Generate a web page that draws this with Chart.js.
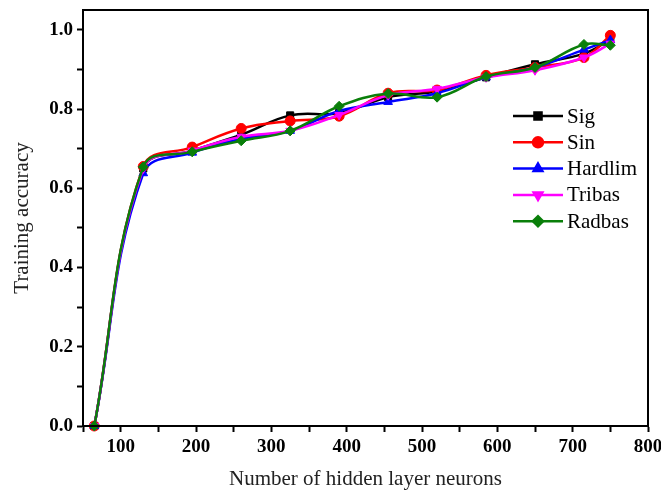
<!DOCTYPE html>
<html>
<head>
<meta charset="utf-8">
<script src="https://cdn.jsdelivr.net/npm/chart.js@4"></script>
<style>
  html, body { margin: 0; padding: 0; background: #fff; }
  #wrap { width: 661px; height: 492px; }
</style>
</head>
<body>
<div id="wrap"><canvas id="chart" width="661" height="492"></canvas></div>
<script>
const neurons = [65, 130, 195, 260, 325, 390, 455, 520, 585, 650, 715, 750];
const sig     = [0, 0.650, 0.695, 0.735, 0.784, 0.790, 0.830, 0.845, 0.880, 0.913, 0.940, 0.975];
const sin     = [0, 0.655, 0.704, 0.751, 0.770, 0.782, 0.840, 0.848, 0.885, 0.905, 0.930, 0.986];
const hardlim = [0, 0.638, 0.690, 0.725, 0.745, 0.795, 0.818, 0.840, 0.880, 0.905, 0.950, 0.974];
const tribas  = [0, 0.650, 0.695, 0.730, 0.745, 0.785, 0.835, 0.851, 0.880, 0.898, 0.930, 0.965];
const radbas  = [0, 0.654, 0.692, 0.720, 0.745, 0.807, 0.839, 0.830, 0.882, 0.905, 0.963, 0.961];

const seriesNames = ['Sig', 'Sin', 'Hardlim', 'Tribas', 'Radbas'];
const xTickLabels = [100, 200, 300, 400, 500, 600, 700, 800];
const yTickLabels = [0.0, 0.2, 0.4, 0.6, 0.8, 1.0];

const serif = '"Liberation Serif", "Times New Roman", serif';

function pts(vals) {
  return neurons.map((x, i) => ({ x: x, y: vals[i] }));
}

function makeSet(label, vals, color, style, rot, order) {
  return {
    label: label,
    data: pts(vals),
    borderColor: color,
    backgroundColor: color,
    borderWidth: 2.5,
    pointStyle: style,
    rotation: rot,
    pointRadius: 5,
    pointBorderWidth: 1,
    tension: 0.4,
    clip: false,
    order: order
  };
}

// frame round the plot + legend inside it
const framePlugin = {
  id: 'frame',
  afterDraw(chart) {
    const a = chart.chartArea;
    const ctx = chart.ctx;
    ctx.save();
    ctx.strokeStyle = '#000';
    ctx.lineWidth = 2;
    ctx.strokeRect(a.left, a.top, a.right - a.left, a.bottom - a.top);

    // legend
    const sets = chart.data.datasets;
    const x0 = 513, x1 = 563, tx = 567;
    let y = 116;
    ctx.font = '21px ' + serif;
    ctx.textBaseline = 'middle';
    seriesNames.forEach(name => {
      const ds = sets.find(d => d.label === name);
      ctx.strokeStyle = ds.borderColor;
      ctx.lineWidth = 2.5;
      ctx.beginPath();
      ctx.moveTo(x0, y);
      ctx.lineTo(x1, y);
      ctx.stroke();
      ctx.fillStyle = ds.backgroundColor;
      Chart.helpers.drawPoint(ctx, {
        pointStyle: ds.pointStyle, rotation: ds.rotation, radius: 5, borderWidth: 1
      }, (x0 + x1) / 2, y);
      ctx.fillStyle = '#000';
      ctx.fillText(name, tx, y + 1);
      y += 26.3;
    });
    ctx.restore();
  }
};

new Chart(document.getElementById('chart').getContext('2d'), {
  type: 'line',
  data: {
    datasets: [
      makeSet('Sig', sig, '#000000', 'rect', 0, 5),
      makeSet('Sin', sin, '#ff0000', 'circle', 0, 4),
      makeSet('Hardlim', hardlim, '#0000ff', 'triangle', 0, 3),
      makeSet('Tribas', tribas, '#ff00ff', 'triangle', 180, 2),
      makeSet('Radbas', radbas, '#0a7f0a', 'rectRot', 0, 1)
    ]
  },
  options: {
    responsive: false,
    animation: false,
    layout: { padding: { left: 0, right: 13, top: 10, bottom: 0 } },
    plugins: {
      legend: { display: false },
      tooltip: { enabled: false }
    },
    scales: {
      x: {
        type: 'linear',
        min: 50,
        max: 800,
        afterFit(s) { s.height = 66; s.paddingLeft = 0; s.paddingRight = 0; },
        border: { color: '#000', width: 2 },
        grid: { drawOnChartArea: false, color: '#000', tickLength: 6, tickWidth: 2 },
        ticks: {
          stepSize: 50,
          color: '#000',
          padding: 4,
          maxRotation: 0,
          font: { family: serif, size: 19, weight: 'bold' },
          callback: v => xTickLabels.includes(v) ? String(v) : ''
        },
        title: {
          display: true,
          text: 'Number of hidden layer neurons',
          color: '#222',
          font: { family: serif, size: 21 },
          padding: { top: 8, bottom: 0 }
        }
      },
      y: {
        min: 0,
        max: 1.05,
        afterFit(s) { s.width = 83; s.paddingTop = 0; s.paddingBottom = 0; },
        border: { color: '#000', width: 2 },
        grid: { drawOnChartArea: false, color: '#000', tickLength: 6, tickWidth: 2 },
        ticks: {
          stepSize: 0.1,
          includeBounds: false,
          color: '#000',
          padding: 4,
          font: { family: serif, size: 19, weight: 'bold' },
          callback: v => {
            const r = Math.round(v * 10) / 10;
            return yTickLabels.some(t => Math.abs(t - r) < 1e-9) && Math.abs(v - r) < 1e-9 ? r.toFixed(1) : '';
          }
        },
        title: {
          display: true,
          text: 'Training accuracy',
          color: '#222',
          font: { family: serif, size: 21 },
          padding: { top: 10, bottom: 0 }
        }
      }
    }
  },
  plugins: [framePlugin]
});
</script>
</body>
</html>
